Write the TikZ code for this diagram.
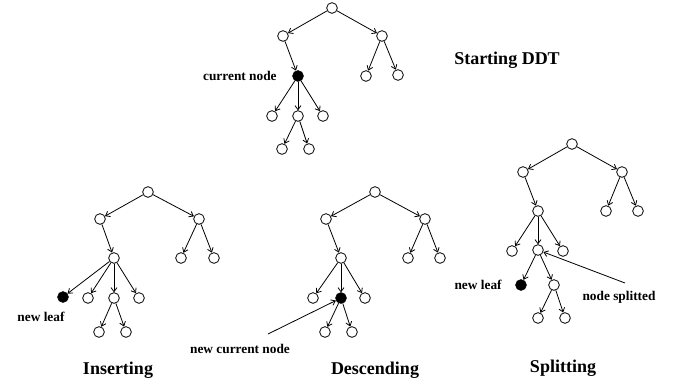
\documentclass[tikz,border=0pt]{standalone}
\usepackage{fontspec}
\setmainfont{Liberation Serif}
\usetikzlibrary{arrows.meta}

\begin{document}
\begin{tikzpicture}
    [
        x=0.75pt, y=-0.75pt,
        >={Straight Barb[length=3pt,width=4.5pt]},
        every path/.style = {line width=0.6pt},
        vtx/.style = {
            circle, draw, fill=white, inner sep=0pt, minimum size=8pt
        },
        cur/.style = {
            vtx, fill=black
        },
        lbl/.style = {
            font=\bfseries\fontsize{10pt}{12pt}\selectfont, inner sep=0pt
        },
        title/.style = {
            font=\bfseries\fontsize{13.5pt}{16pt}\selectfont, inner sep=0pt
        },
    ]
    \useasboundingbox (0,0) rectangle (685,383);

    % starting DDT
    \node[vtx] (s0) at (332,8) {};
    \node[vtx] (s1) at (283,36) {};
    \node[vtx] (s2) at (382,36) {};
    \node[cur] (s3) at (298,76) {};
    \node[vtx] (s4) at (366,76) {};
    \node[vtx] (s5) at (398,75) {};
    \node[vtx] (s6) at (272,116) {};
    \node[vtx] (s7) at (298,116) {};
    \node[vtx] (s8) at (323,116) {};
    \node[vtx] (s9) at (282,149) {};
    \node[vtx] (s10) at (309,149) {};
    \draw[->] (s0) -- (s1);
    \draw[->] (s0) -- (s2);
    \draw[->] (s1) -- (s3);
    \draw[->] (s2) -- (s4);
    \draw[->] (s2) -- (s5);
    \draw[->] (s3) -- (s6);
    \draw[->] (s3) -- (s7);
    \draw[->] (s3) -- (s8);
    \draw[->] (s7) -- (s9);
    \draw[->] (s7) -- (s10);
    \node[lbl, anchor=east] (curlbl) at (277,76) {current node};
    \node[title] (start) at (507,60) {Starting DDT};

    % inserting
    \node[vtx] (i0) at (148,192) {};
    \node[vtx] (i1) at (100,219) {};
    \node[vtx] (i2) at (199,219) {};
    \node[vtx] (i3) at (114,258) {};
    \node[vtx] (i4) at (181,258) {};
    \node[vtx] (i5) at (214,258) {};
    \node[cur] (i6) at (63,297) {};
    \node[vtx] (i7) at (88,298) {};
    \node[vtx] (i8) at (114,298) {};
    \node[vtx] (i9) at (139,298) {};
    \node[vtx] (i10) at (99,332) {};
    \node[vtx] (i11) at (126,332) {};
    \draw[->] (i0) -- (i1);
    \draw[->] (i0) -- (i2);
    \draw[->] (i1) -- (i3);
    \draw[->] (i2) -- (i4);
    \draw[->] (i2) -- (i5);
    \draw[->] (i3) -- (i6);
    \draw[->] (i3) -- (i7);
    \draw[->] (i3) -- (i8);
    \draw[->] (i3) -- (i9);
    \draw[->] (i8) -- (i10);
    \draw[->] (i8) -- (i11);
    \node[lbl] (leafi) at (41,317) {new leaf};
    \node[title] (insert) at (118,370) {Inserting};

    % descending
    \node[vtx] (d0) at (375,192) {};
    \node[vtx] (d1) at (326,219) {};
    \node[vtx] (d2) at (425,219) {};
    \node[vtx] (d3) at (341,258) {};
    \node[vtx] (d4) at (408,258) {};
    \node[vtx] (d5) at (440,258) {};
    \node[vtx] (d6) at (313,298) {};
    \node[cur] (d7) at (341,298) {};
    \node[vtx] (d8) at (365,298) {};
    \node[vtx] (d9) at (325,332) {};
    \node[vtx] (d10) at (352,332) {};
    \draw[->] (d0) -- (d1);
    \draw[->] (d0) -- (d2);
    \draw[->] (d1) -- (d3);
    \draw[->] (d2) -- (d4);
    \draw[->] (d2) -- (d5);
    \draw[->] (d3) -- (d6);
    \draw[->] (d3) -- (d7);
    \draw[->] (d3) -- (d8);
    \draw[->] (d7) -- (d9);
    \draw[->] (d7) -- (d10);
    \node[lbl] (newcur) at (240,349) {new current node};
    \coordinate (newcurend) at (268,334);
    \draw[->] (newcurend) -- (d7);
    \node[title] (descend) at (375,370) {Descending};

    % splitting
    \node[vtx] (p0) at (572,144) {};
    \node[vtx] (p1) at (523,172) {};
    \node[vtx] (p2) at (622,172) {};
    \node[vtx] (p3) at (538,211) {};
    \node[vtx] (p4) at (606,211) {};
    \node[vtx] (p5) at (638,211) {};
    \node[vtx] (p6) at (512,251) {};
    \node[vtx] (p7) at (538,250) {};
    \node[vtx] (p8) at (563,251) {};
    \node[cur] (p9) at (521,285) {};
    \node[vtx] (p10) at (554,285) {};
    \node[vtx] (p11) at (538,318) {};
    \node[vtx] (p12) at (565,318) {};
    \draw[->] (p0) -- (p1);
    \draw[->] (p0) -- (p2);
    \draw[->] (p1) -- (p3);
    \draw[->] (p2) -- (p4);
    \draw[->] (p2) -- (p5);
    \draw[->] (p3) -- (p6);
    \draw[->] (p3) -- (p7);
    \draw[->] (p3) -- (p8);
    \draw[->] (p7) -- (p9);
    \draw[->] (p7) -- (p10);
    \draw[->] (p10) -- (p11);
    \draw[->] (p10) -- (p12);
    \node[lbl, anchor=east] (leafp) at (502,285) {new leaf};
    \node[lbl] (splitlbl) at (619,297) {node splitted};
    \coordinate (splitend) at (625,283);
    \draw[->] (splitend) -- (p7);
    \node[title] (split) at (563,368) {Splitting};
\end{tikzpicture}
\end{document}
